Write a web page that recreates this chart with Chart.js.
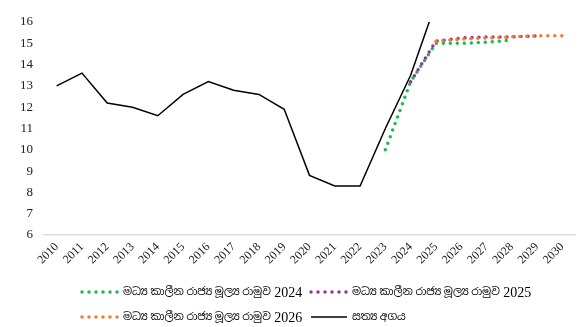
<!DOCTYPE html>
<html>
<head>
<meta charset="utf-8">
<script src="https://cdn.jsdelivr.net/npm/chart.js@4"></script>
<style>
  html, body { margin: 0; padding: 0; background: #fff; }
  #wrap { width: 581px; height: 327px; }
</style>
</head>
<body>
<div id="wrap"><canvas id="myChart" width="581" height="327"></canvas></div>
<script>
const years = ["2010", "2011", "2012", "2013", "2014", "2015", "2016", "2017", "2018", "2019", "2020",
  "2021", "2022", "2023", "2024", "2025", "2026", "2027", "2028", "2029", "2030"];

const actual = [13.0, 13.6, 12.2, 12.0, 11.6, 12.6, 13.2, 12.8, 12.6, 11.9, 8.8,
  8.3, 8.3, 11.0, 13.5, 16.9, null, null, null, null, null];
const mtff2024 = [null, null, null, null, null, null, null, null, null, null, null,
  null, null, 10.0, 13.2, 15.0, 15.0, 15.05, 15.15, null, null];
const mtff2025 = [null, null, null, null, null, null, null, null, null, null, null,
  null, null, null, 13.2, 15.1, 15.25, 15.3, 15.3, 15.35, null];
const mtff2026 = [null, null, null, null, null, null, null, null, null, null, null,
  null, null, null, null, 15.1, 15.2, 15.25, 15.3, 15.35, 15.35];

const labels = [
  "මධ්‍ය කාලීන රාජ්‍ය මූල්‍ය රාමුව 2024",
  "මධ්‍ය කාලීන රාජ්‍ය මූල්‍ය රාමුව 2025",
  "මධ්‍ය කාලීන රාජ්‍ය මූල්‍ය රාමුව 2026",
  "සත්‍ය අගය"
];

const serif = "'Liberation Serif', 'Times New Roman', 'Noto Sans Sinhala', serif";

function dotted(color) {
  return {
    borderColor: color,
    backgroundColor: color,
    borderWidth: 3.5,
    borderDash: [0, 7],
    borderCapStyle: "round",
    pointRadius: 0,
    tension: 0,
    spanGaps: false
  };
}

// legend drawn by hand so the rows line up like the original
const gridLegend = {
  id: "gridLegend",
  afterDraw(chart) {
    const c = chart.ctx;
    const ds = chart.data.datasets;
    const cells = [[80, 292], [309, 292], [80, 317], [309, 317]];
    c.save();
    c.textBaseline = "middle";
    c.fillStyle = "#000";
    ds.forEach((d, i) => {
      const [x, y] = cells[i];
      c.beginPath();
      c.strokeStyle = d.borderColor;
      c.lineWidth = d.borderDash ? 3.5 : 1.5;
      c.lineCap = d.borderDash ? "round" : "butt";
      c.setLineDash(d.borderDash || []);
      c.moveTo(x + 2, y);
      c.lineTo(x + 38, y);
      c.stroke();
      c.setLineDash([]);
      // sinhala words are set smaller than the year, as in the original
      const m = d.label.match(/^(.*?)(\s\d{4})?$/);
      let tx = x + 43;
      c.font = "10.7px " + serif;
      c.fillText(m[1], tx, y);
      tx += c.measureText(m[1]).width;
      if (m[2]) {
        c.font = "14px " + serif;
        c.fillText(m[2], tx, y + 1);
      }
    });
    c.restore();
  }
};

new Chart(document.getElementById("myChart"), {
  type: "line",
  data: {
    labels: years,
    datasets: [
      { label: labels[0], data: mtff2024, order: 4, ...dotted("#1DB954") },
      { label: labels[1], data: mtff2025, order: 3, ...dotted("#9A2FA0") },
      { label: labels[2], data: mtff2026, order: 2, ...dotted("#F07C30") },
      {
        label: labels[3],
        data: actual,
        order: 1,
        borderColor: "#000",
        backgroundColor: "#000",
        borderWidth: 1.5,
        pointRadius: 0,
        tension: 0
      }
    ]
  },
  options: {
    responsive: false,
    animation: false,
    layout: {
      padding: { top: 22, right: 6, bottom: 47, left: 0 }
    },
    plugins: {
      legend: { display: false },
      tooltip: { enabled: false }
    },
    scales: {
      x: {
        offset: true,
        grid: { display: false, drawTicks: false },
        border: { display: true, color: "#d9d9d9", width: 1.5 },
        ticks: {
          minRotation: 45,
          maxRotation: 45,
          padding: 5,
          color: "#222",
          font: { family: serif, size: 12 }
        },
        afterFit(scale) { scale.height = 45; }
      },
      y: {
        min: 6,
        max: 16,
        grid: { display: false, drawTicks: false },
        border: { display: false },
        ticks: {
          stepSize: 1,
          padding: 11,
          color: "#222",
          font: { family: serif, size: 13 }
        },
        afterFit(scale) { scale.width = 44; }
      }
    }
  },
  plugins: [gridLegend]
});
</script>
</body>
</html>
